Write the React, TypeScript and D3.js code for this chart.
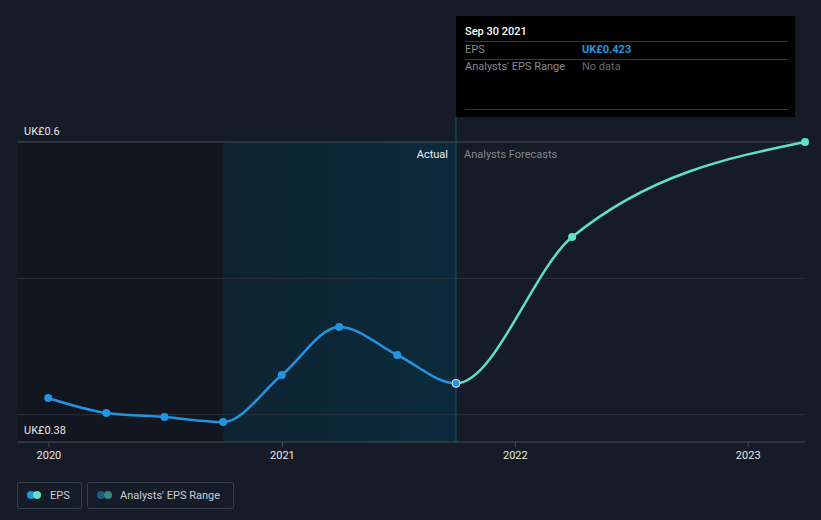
import React from "react";
import * as d3 from "d3";

const actualDates = ["2019-12-31", "2020-03-31", "2020-06-30", "2020-09-30", "2020-12-31", "2021-03-31", "2021-06-30", "2021-09-30"];
const actualEps = [0.4123, 0.4013, 0.3983, 0.3947, 0.4291, 0.4644, 0.4438, 0.423];
const forecastDates = ["2022-03-31", "2023-03-31"];
const forecastEps = [0.5303, 0.6];
const yearTicks = ["2020-01-01", "2021-01-01", "2022-01-01", "2023-01-01"];
const yearLabels = ["2020", "2021", "2022", "2023"];
const gridValues = [0.6, 0.5, 0.4];

const W = 821;
const H = 520;
const FONT = "Roboto, 'Noto Sans', sans-serif";

export default function App() {
  const pd = (s: string) => new Date(s + "T00:00:00Z");
  const x = d3.scaleUtc().domain([pd("2019-11-12"), pd("2023-03-31")]).range([17, 805]);
  const y = d3.scaleLinear().domain([0.38, 0.6]).range([442, 142]);

  const actual = actualDates.map((d, i) => ({ d: pd(d), v: actualEps[i] }));
  const forecast = forecastDates.map((d, i) => ({ d: pd(d), v: forecastEps[i] }));
  const all = actual.concat(forecast);
  const line = d3
    .line<{ d: Date; v: number }>()
    .x((p) => x(p.d))
    .y((p) => y(p.v))
    .curve(d3.curveMonotoneX);
  const fullPath = line(all) || "";

  const pastStart = x(pd("2020-09-30"));
  const nowX = x(pd("2021-09-30"));
  const top = y(0.6);
  const bottom = y(0.38);

  return (
    <svg width={W} height={H} style={{ position: "absolute", left: 0, top: 0, background: "#161c27" }} fontFamily={FONT}>
      <defs>
        <linearGradient id="hl" x1="0" x2="1" y1="0" y2="0">
          <stop offset="0%" stopColor="#0e2332" />
          <stop offset="100%" stopColor="#0a2b3c" />
        </linearGradient>
        <clipPath id="clipA">
          <rect x={0} y={0} width={nowX} height={H} />
        </clipPath>
        <clipPath id="clipF">
          <rect x={nowX} y={0} width={W - nowX} height={H} />
        </clipPath>
      </defs>
      <rect x={0} y={0} width={W} height={H} fill="#161c27" />
      <rect x={17} y={top} width={pastStart - 17} height={bottom - top} fill="#12161e" />
      <rect x={pastStart} y={top} width={nowX - pastStart} height={bottom - top} fill="url(#hl)" />

      {gridValues.map((g, i) => (
        <line key={g} x1={17} x2={805} y1={y(g)} y2={y(g)} stroke={i === 0 ? "#474d56" : "#2b313b"} strokeWidth={1} />
      ))}
      <line x1={17} x2={805} y1={bottom} y2={bottom} stroke="#474d56" strokeWidth={1} />

      {yearTicks.map((t, i) => (
        <g key={t}>
          <line x1={x(pd(t))} x2={x(pd(t))} y1={bottom} y2={bottom + 5} stroke="#474d56" />
          <text x={x(pd(t))} y={459} textAnchor="middle" fill="#e6e6e6" fontSize={11}>
            {yearLabels[i]}
          </text>
        </g>
      ))}

      <text x={24} y={135} fill="#e6e6e6" fontSize={11}>UK£0.6</text>
      <text x={24} y={434} fill="#e6e6e6" fontSize={11}>UK£0.38</text>

      <line x1={nowX} x2={nowX} y1={117} y2={bottom} stroke="#1d5566" strokeWidth={1} />
      <text x={448} y={158} textAnchor="end" fill="#eeeeee" fontSize={11}>Actual</text>
      <text x={464} y={158} fill="#80868e" fontSize={11}>Analysts Forecasts</text>

      <path d={fullPath} fill="none" stroke="#5fe0c8" strokeWidth={2.5} clipPath="url(#clipF)" />
      <path d={fullPath} fill="none" stroke="#2394e0" strokeWidth={2.5} clipPath="url(#clipA)" />
      {forecast.map((p, i) => (
        <circle key={"f" + i} cx={x(p.d)} cy={y(p.v)} r={4} fill="#5fe0c8" />
      ))}
      {actual.map((p, i) =>
        i === actual.length - 1 ? (
          <circle key={"a" + i} cx={x(p.d)} cy={y(p.v)} r={4} fill="#2394e0" stroke="#dfe8f0" strokeWidth={1} />
        ) : (
          <circle key={"a" + i} cx={x(p.d)} cy={y(p.v)} r={4} fill="#2394e0" />
        )
      )}

      <rect x={456} y={16} width={339} height={101} fill="#000000" />
      <text x={465} y={35} fill="#ffffff" fontSize={11} fontWeight={500}>Sep 30 2021</text>
      <line x1={465} x2={788} y1={41.5} y2={41.5} stroke="#3a3a3a" />
      <text x={465} y={53} fill="#8a8a8a" fontSize={11}>EPS</text>
      <text x={582} y={53} fill="#2394e0" fontSize={11} fontWeight={700}>UK£0.423</text>
      <line x1={465} x2={788} y1={59.5} y2={59.5} stroke="#3a3a3a" />
      <text x={465} y={70} fill="#8a8a8a" fontSize={11}>Analysts' EPS Range</text>
      <text x={582} y={70} fill="#6a6a6a" fontSize={11}>No data</text>
      <line x1={465} x2={788} y1={109.5} y2={109.5} stroke="#3a3a3a" />

      <rect x={17.5} y={482.5} width={64} height={26} rx={2} fill="none" stroke="#3a404a" />
      <circle cx={31} cy={495} r={4} fill="#2394e0" />
      <circle cx={37} cy={495} r={4} fill="#5fe0c8" />
      <text x={50} y={499} fill="#c8ccd2" fontSize={11}>EPS</text>
      <rect x={87.5} y={482.5} width={146} height={26} rx={2} fill="none" stroke="#3a404a" />
      <circle cx={101} cy={495} r={4} fill="#1f5a86" />
      <circle cx={108} cy={495} r={4} fill="#3b8580" />
      <text x={120} y={499} fill="#c8ccd2" fontSize={11}>Analysts' EPS Range</text>
    </svg>
  );
}
